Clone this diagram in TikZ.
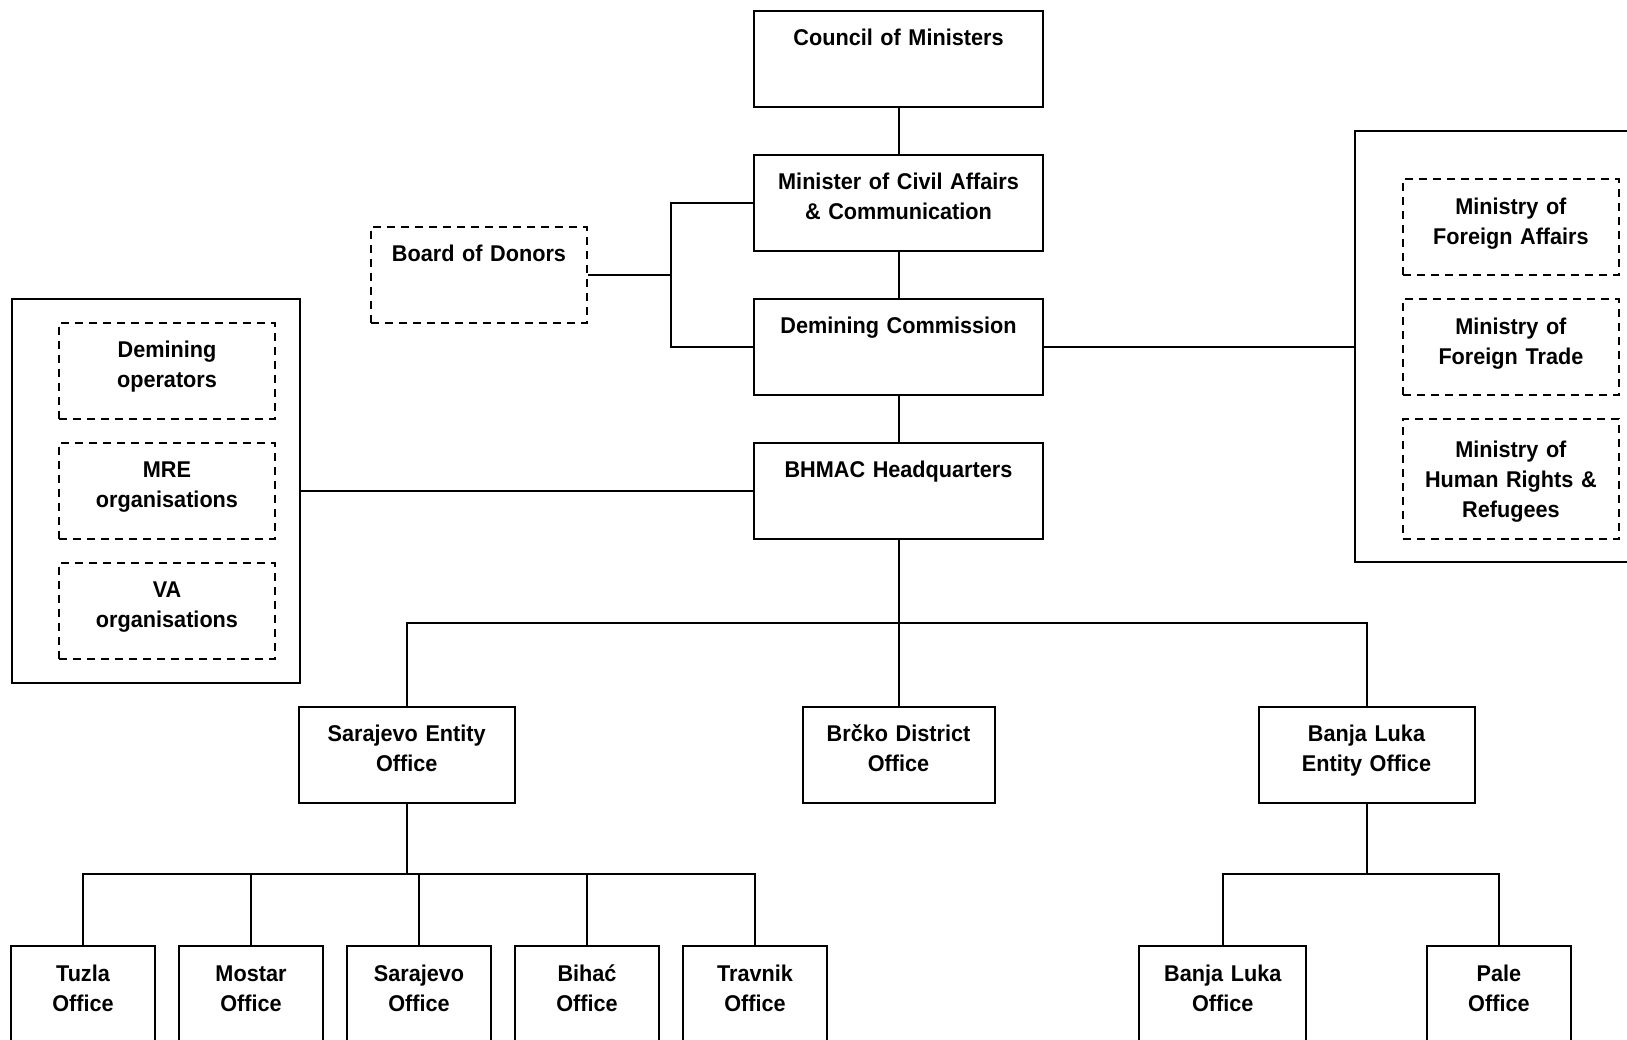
\documentclass[tikz,border=0pt]{standalone}
\usepackage{fontspec}
\setmainfont{Liberation Sans}[FakeStretch=0.95]
\usetikzlibrary{
  positioning, % for relative positioning of the boxes
}
\tikzset{
  office/.style={ % style for each office box
    rectangle,draw,line width=1pt, % drawn as a solid rectangle
    inner sep=0pt, % no padding, the text width gives the box width
    align=center, % lines centred in the box
    text height=17.5pt, % first baseline sits near the top of the box
    text depth=30.5pt, % keeps the boxes the same height
    font=\bfseries\fontsize{11.4}{15}\selectfont,
    anchor=north,
  },
  partner/.style={ % style for the dashed partner boxes
    office, % inherit the office style
    dash pattern=on 4pt off 3pt, % dashed outline
  },
  group/.style={ % style for the frames round the partner boxes
    rectangle,draw,line width=1pt, % drawn as a solid rectangle
    inner sep=0pt,
    anchor=north west,
  },
  conn/.style={ % style for the connections
    line width=1pt, % same weight as the boxes
  },
}
\begin{document}
\begin{tikzpicture}[x=0.5pt,y=-0.5pt]
  \useasboundingbox (0,0) rectangle (1627,1039);
  \clip (0,0) rectangle (1627,1039);
  % main column
  \node[office, text width=144.5pt] (com) at (898.5,9.7) {Council of Ministers};
  \node[office, text width=144.5pt, below=23pt of com] (mca) {Minister of Civil Affairs\\\& Communication};
  \node[office, text width=144.5pt, below=23pt of mca] (dc) {Demining Commission};
  \node[office, text width=144.5pt, below=23pt of dc] (hq) {BHMAC Headquarters};
  \node[partner, text width=108pt] (bod) at (479,225.7) {Board of Donors};
  % left group
  \node[group, minimum width=144.2pt, minimum height=191.7pt] (lgrp) at (10.7,298.3) {};
  \node[partner, text width=108pt] (dops) at (167,321.5) {Demining\\operators};
  \node[partner, text width=108pt, below=11pt of dops] (dmre) {MRE\\organisations};
  \node[partner, text width=108pt, below=11pt of dmre] (dva) {VA\\organisations};
  % right group
  \node[group, minimum width=156pt, minimum height=215.5pt] (rgrp) at (1354.3,130) {};
  \node[partner, text width=108pt] (mfa) at (1510.9,178) {Ministry of\\Foreign Affairs};
  \node[partner, text width=108pt, below=11pt of mfa] (mft) {Ministry of\\Foreign Trade};
  \node[partner, text width=108pt, text height=19pt, text depth=41pt, below=11pt of mft] (mhr) {Ministry of\\Human Rights \&\\Refugees};
  % entity offices
  \node[office, text width=108pt] (sar) at (406.7,705.6) {Sarajevo Entity\\Office};
  \node[office, text width=96pt] (brc) at (898.5,705.6) {Brčko District\\Office};
  \node[office, text width=108pt] (bl) at (1366.5,705.6) {Banja Luka\\Entity Office};
  % regional offices
  \foreach \n/\x/\t in {tuz/83/Tuzla, mos/251/Mostar, sao/419/Sarajevo, bih/587/Bihać, tra/755/Travnik}
    \node[office, text width=72pt] (\n) at (\x,945.3) {\t\\Office};
  \node[office, text width=83.5pt] (blo) at (1222.8,945.3) {Banja Luka\\Office};
  \node[office, text width=72pt] (pal) at (1498.9,945.3) {Pale\\Office};
  % connections
  \draw[conn] (com) -- (mca);
  \draw[conn] (mca) -- (dc);
  \draw[conn] (dc) -- (hq);
  \coordinate (j) at (670.7,0);
  \draw[conn] (bod.east) -- (bod.east -| j);
  \draw[conn] (mca) -| (j |- dc) -- (dc);
  \draw[conn] (dc.east) -- (dc.east -| rgrp.west);
  \draw[conn] (hq.west) -- (hq.west -| lgrp.east);
  \coordinate (b1) at (898.5,622.6);
  \draw[conn] (hq) -- (b1);
  \draw[conn] (sar) |- (b1) -| (bl);
  \draw[conn] (brc) -- (b1);
  \coordinate (b2) at (406.7,873.7);
  \draw[conn] (sar) -- (b2);
  \foreach \n in {tuz,mos,sao,bih,tra}
    \draw[conn] (b2) -| (\n);
  \coordinate (b3) at (1366.5,873.7);
  \draw[conn] (bl) -- (b3);
  \foreach \n in {blo,pal}
    \draw[conn] (b3) -| (\n);
\end{tikzpicture}
\end{document}
